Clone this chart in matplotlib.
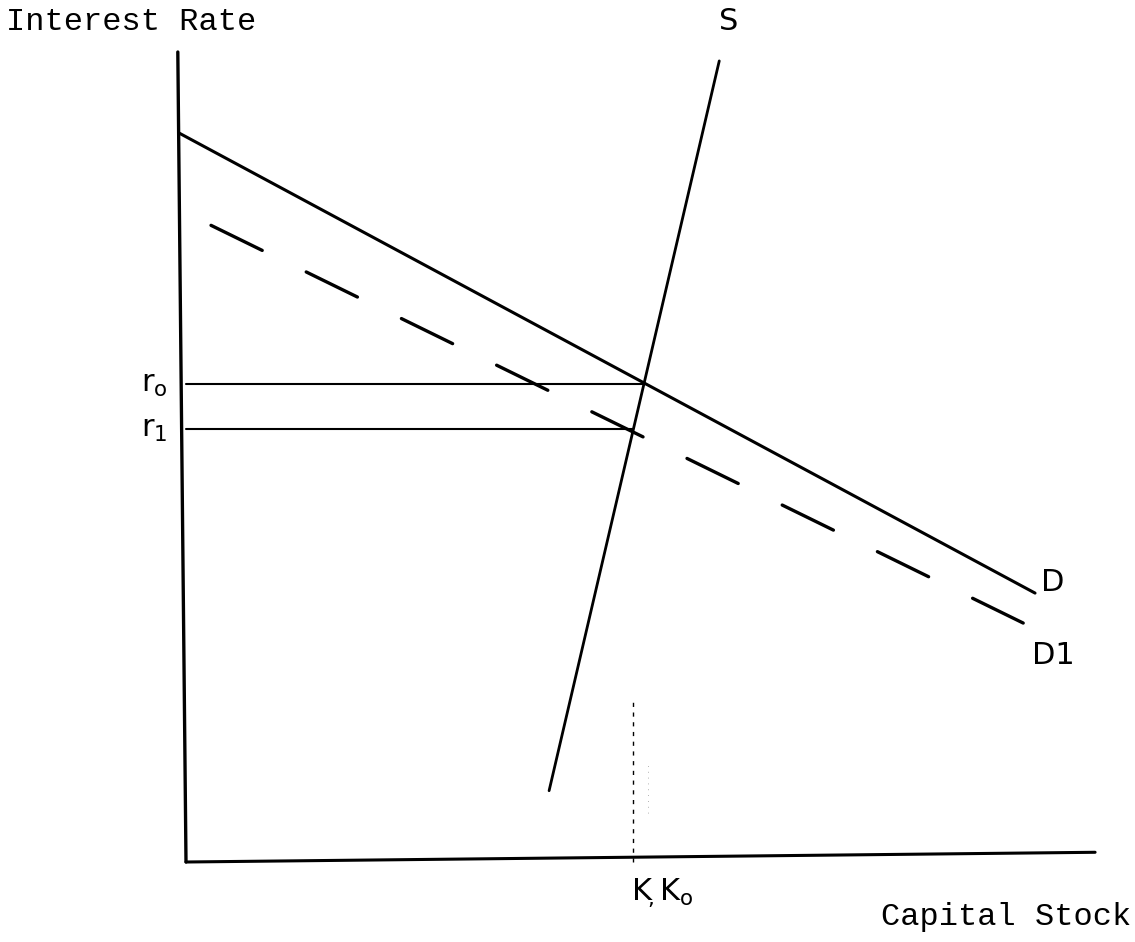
"""Capital stock market: supply S, demand D shifting down to D1."""

import matplotlib.pyplot as plt

# axis frame (hand-drawn, slightly tilted)
y_axis_x = [-0.9, 0.0]
y_axis_y = [100.0, 0.0]
x_axis_x = [0.0, 99.9]
x_axis_y = [0.0, 1.2]

# demand curves
demand_x = [-0.77, 93.3]
demand_y = [90.0, 33.2]
demand1_x = [2.75, 92.0]
demand1_y = [78.6, 29.5]

# supply curve
supply_x = [39.9, 58.6]
supply_y = [8.8, 98.9]

# equilibria
r0, k0 = 59.0, 50.5
r1, k1 = 53.4, 49.1
k_guide_top = 19.8

fig = plt.figure(figsize=(11.35, 9.42), dpi=100)
ax = fig.add_axes([186 / 1135, 80 / 942, 910 / 1135, 810 / 942])
ax.set_xlim(0, 100)
ax.set_ylim(0, 100)
ax.axis("off")

kw = dict(color="black", clip_on=False, solid_capstyle="round")
ax.plot(y_axis_x, y_axis_y, lw=2.4, **kw)
ax.plot(x_axis_x, x_axis_y, lw=2.2, **kw)

ax.plot(demand_x, demand_y, lw=2.2, **kw)
# nine dashes over the length of D1
ax.plot(demand1_x, demand1_y, lw=2.4, color="black", clip_on=False,
        linestyle=(0, (17.1, 14.7)), dash_capstyle="round")
ax.plot(supply_x, supply_y, lw=2.0, **kw)

ax.plot([0, k0], [r0, r0], lw=1.5, **kw)
ax.plot([0, k1], [r1, r1], lw=1.5, **kw)
ax.plot([k1, k1], [0, k_guide_top], lw=1.0, color="black",
        linestyle=(0, (3, 4)), clip_on=False)
ax.plot([k0 + 0.3, k0 + 0.3], [6, 12], lw=0.6, color="0.6",
        linestyle=(0, (1, 6)), clip_on=False)

hand = dict(family="DejaVu Sans", color="black", fontsize=22)
ax.text(-2.0, r0, r"$\mathrm{r_o}$", ha="right", va="center", **hand)
ax.text(-2.0, r1, r"$\mathrm{r_1}$", ha="right", va="center", **hand)
ax.text(52.4, -1.8, r"$\mathrm{K_{\!,}K_o}$", ha="center", va="top", **hand)
ax.text(94.0, 34.5, "D", ha="left", va="center", **hand)
ax.text(93.0, 25.5, "D1", ha="left", va="center", **hand)
ax.text(58.6, 102.0, "S", ha="left", va="bottom", **hand)

mono = dict(family="Liberation Mono", color="black", fontsize=23)
fig.text(6 / 1135, 1 - 22 / 942, "Interest Rate", ha="left", va="center", **mono)
fig.text(1131 / 1135, 1 - 917 / 942, "Capital Stock", ha="right", va="center", **mono)

fig.savefig("out.png", dpi=100)
